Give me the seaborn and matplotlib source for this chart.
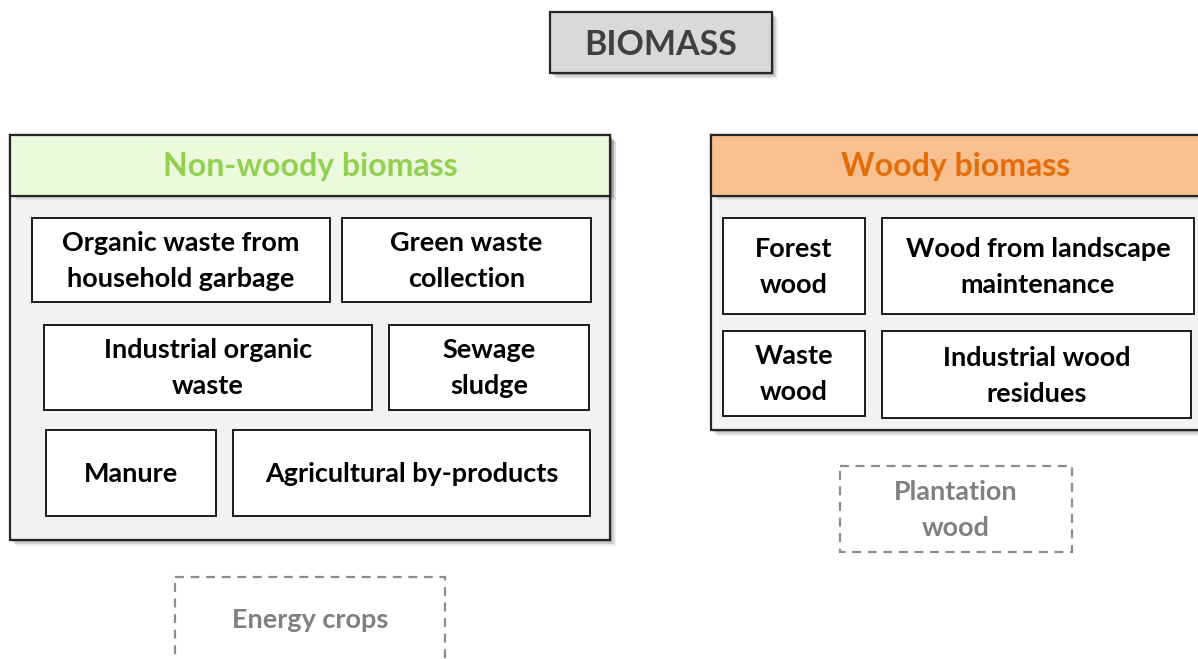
import matplotlib
matplotlib.use("Agg")
import matplotlib.pyplot as plt
import matplotlib.patches as mpatches
import seaborn as sns

sns.set_theme(style="white")
plt.rcParams['font.family'] = ['Lato', 'DejaVu Sans']

# labels
title_label = "BIOMASS"
group_labels = ["Non-woody biomass", "Woody biomass"]
nonwoody_items = ["Organic waste from\nhousehold garbage", "Green waste\ncollection",
                  "Industrial organic\nwaste", "Sewage\nsludge",
                  "Manure", "Agricultural by-products"]
woody_items = ["Forest\nwood", "Wood from landscape\nmaintenance",
               "Waste\nwood", "Industrial wood\nresidues"]
optional_items = ["Energy crops", "Plantation\nwood"]

# layout (pixel boxes: x0, y0, x1, y1)
title_box = (550, 12, 772, 73)
group_boxes = [(10, 135, 610, 540), (711, 135, 1200, 430)]
header_h = 61
nonwoody_boxes = [(32, 218, 330, 302), (342, 218, 591, 302),
                  (44, 325, 372, 410), (389, 325, 589, 410),
                  (46, 430, 216, 516), (233, 430, 590, 516)]
woody_boxes = [(723, 218, 865, 314), (882, 218, 1194, 314),
               (723, 331, 865, 416), (882, 331, 1191, 418)]
optional_boxes = [(175, 577, 445, 680), (840, 466, 1072, 552)]
header_fill = ["#ebf9dc", "#f9c08f"]
header_text = ["#92d050", "#e46c0a"]

W, H = 1198, 659
PX = 0.72  # px -> pt at dpi 100

fig = plt.figure(figsize=(W / 100, H / 100), dpi=100)
ax = fig.add_axes([0, 0, 1, 1])
ax.set_xlim(0, W)
ax.set_ylim(H, 0)
ax.axis("off")


def shadow(b, z):
    for i, a in zip([2, 4, 6], [0.18, 0.12, 0.07]):
        ax.add_patch(mpatches.Rectangle((b[0] + i, b[1] + i), b[2] - b[0], b[3] - b[1],
                                        facecolor="black", edgecolor="none", alpha=a, zorder=z))


def box(b, fc, ec="#1a1a1a", lw=1.4, z=2, ls="-"):
    ax.add_patch(mpatches.Rectangle((b[0], b[1]), b[2] - b[0], b[3] - b[1],
                                    facecolor=fc, edgecolor=ec, linewidth=lw, linestyle=ls, zorder=z))


def label(b, s, color="black", size=27, z=5, y=None):
    cy = (b[1] + b[3]) / 2 + 1 if y is None else y
    ax.text((b[0] + b[2]) / 2, cy, s, ha="center", va="center", color=color,
            fontsize=size * PX, fontweight="bold", linespacing=1.6, zorder=z)


# title
shadow(title_box, 1)
box(title_box, "#d9d9d9", ec="#262626", lw=1.6)
label(title_box, title_label, color="#404040", size=34, y=45)

# group containers
for gb, gl, hf, ht in zip(group_boxes, group_labels, header_fill, header_text):
    shadow(gb, 1)
    box(gb, "#f2f2f2", ec="#262626", lw=1.6)
    hb = (gb[0], gb[1], gb[2], gb[1] + header_h)
    shadow((hb[0], hb[1], hb[2], hb[3] - 2), 2.5)
    box(hb, hf, ec="#262626", lw=1.6, z=3)
    label(hb, gl, color=ht, size=32)

for b, s in zip(nonwoody_boxes, nonwoody_items):
    box(b, "white", ec="#1a1a1a", lw=1.4, z=4)
    label(b, s)

for b, s in zip(woody_boxes, woody_items):
    box(b, "white", ec="#1a1a1a", lw=1.4, z=4)
    label(b, s)

# optional (dashed) items
for b, s in zip(optional_boxes, optional_items):
    box(b, "white", ec="#8c8c8c", lw=1.6, ls=(0, (4, 3)), z=2)
optional_y = [620, None]
for b, s, yy in zip(optional_boxes, optional_items, optional_y):
    label(b, s, color="#808080", y=yy)

fig.savefig("out.png", dpi=100)
